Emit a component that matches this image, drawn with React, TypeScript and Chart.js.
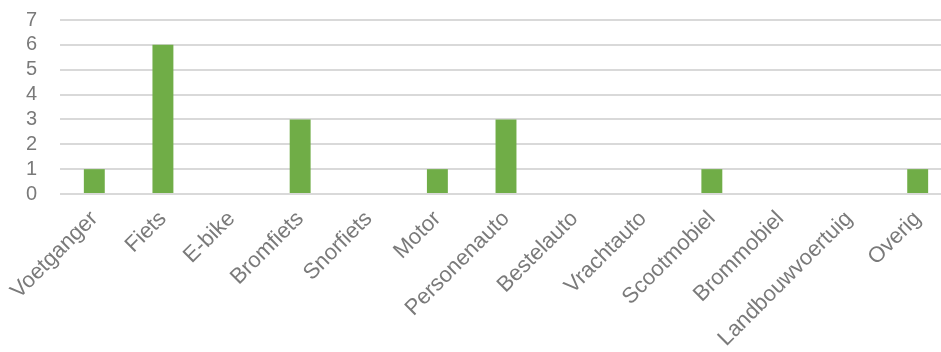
import React, { useEffect, useRef } from "react";
import { Chart, registerables } from "chart.js";

Chart.register(...registerables);

const categories = [
  "Voetganger",
  "Fiets",
  "E-bike",
  "Bromfiets",
  "Snorfiets",
  "Motor",
  "Personenauto",
  "Bestelauto",
  "Vrachtauto",
  "Scootmobiel",
  "Brommobiel",
  "Landbouwvoertuig",
  "Overig",
];
const values = [1, 6, 0, 3, 0, 1, 3, 0, 0, 1, 0, 0, 1];
const yMin = 0;
const yMax = 7;
const yStep = 1;

export default function App() {
  const ref = useRef<HTMLCanvasElement>(null);
  useEffect(() => {
    if (!ref.current) return;
    const chart = new Chart(ref.current, {
      type: "bar",
      data: {
        labels: categories,
        datasets: [
          {
            data: values,
            backgroundColor: "#70AD47",
            borderWidth: 0,
            categoryPercentage: 1,
            barPercentage: 0.305,
          },
        ],
      },
      options: {
        animation: false,
        responsive: false,
        maintainAspectRatio: false,
        layout: { padding: { top: 20, right: 0, left: 0, bottom: 0 } },
        plugins: { legend: { display: false }, tooltip: { enabled: false } },
        scales: {
          x: {
            grid: { display: false, drawTicks: false },
            border: { display: false },
            ticks: {
              autoSkip: false,
              minRotation: 45,
              maxRotation: 45,
              padding: 12,
              color: "#7a7a7a",
              font: { family: "'Liberation Sans', Arial, sans-serif", size: 22 },
            },
            afterFit: (s: any) => {
              s.height = 158;
              s.paddingLeft = 0;
              s.paddingRight = 0;
            },
          },
          y: {
            min: yMin,
            max: yMax,
            ticks: {
              stepSize: yStep,
              autoSkip: false,
              padding: 23,
              color: "#7a7a7a",
              font: { family: "'Liberation Sans', Arial, sans-serif", size: 20 },
            },
            grid: { color: "#d9d9d9", lineWidth: 2, drawTicks: false },
            border: { display: false },
            afterFit: (s: any) => {
              s.width = 60;
              s.paddingTop = 0;
              s.paddingBottom = 0;
            },
          },
        },
      },
    });
    return () => chart.destroy();
  }, []);
  return (
    <div
      style={{
        position: "fixed",
        left: 0,
        top: 0,
        width: 941,
        height: 352,
        overflow: "hidden",
        background: "#fff",
      }}
    >
      <canvas ref={ref} width={952} height={352} style={{ display: "block" }} />
    </div>
  );
}
